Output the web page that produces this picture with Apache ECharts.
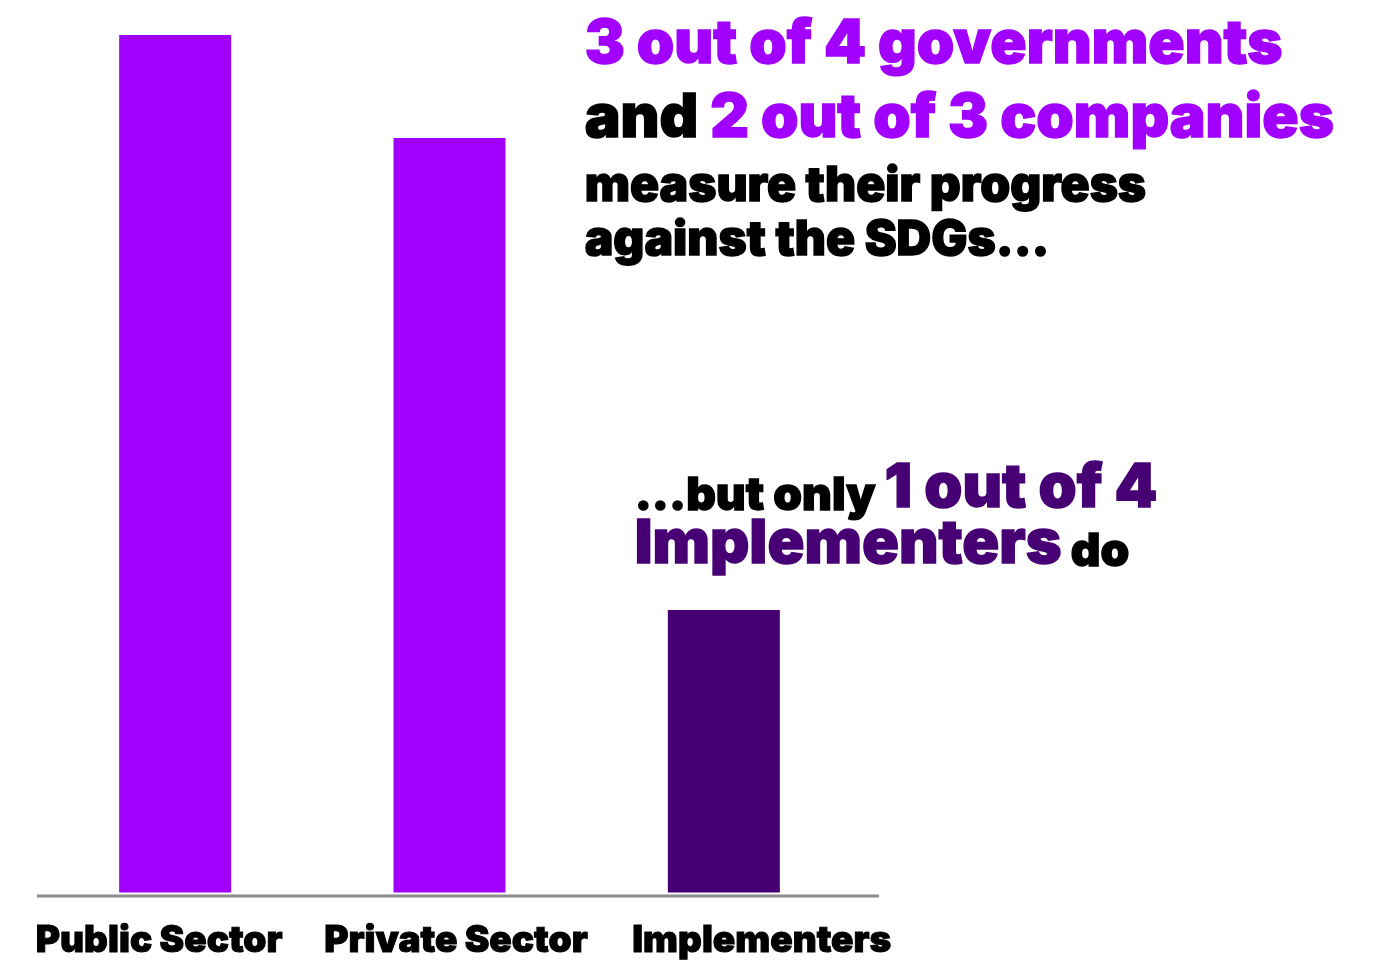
<!DOCTYPE html>
<html>
<head>
<meta charset="utf-8">
<script src="https://cdn.jsdelivr.net/npm/echarts@6/dist/echarts.min.js"></script>
<style>
html,body{margin:0;padding:0;background:#fff;}
#chart{width:1393px;height:960px;}
</style>
</head>
<body>
<div id="chart"></div>
<script>
const categories = ['Public Sector', 'Private Sector', 'Implementers'];
const values = [75, 66, 24.7];
const barColors = ['#A100FF', '#A100FF', '#460073'];

const FONT = '"Inter Black", Inter';
const PURPLE = '#A100FF';
const DARK = '#460073';

const chart = echarts.init(document.getElementById('chart'), null, {renderer: 'canvas'});

const labelPad = [[0, 32, 0, 0], [0, 0, 0, 13], [0, 0, 0, 76]];
const rich = {};
labelPad.forEach((p, i) => {
  rich['c' + i] = {fontFamily: FONT, fontWeight: 900, fontSize: 37, color: '#000', padding: p,
                   textBorderColor: '#000', textBorderWidth: 1};
});

function st(size, color, extra) {
  return Object.assign({fontFamily: FONT, fontWeight: 900, fontSize: size, fill: color,
                        stroke: color, lineWidth: 1.4}, extra || {});
}

const big = 60, mid = 48;
chart.setOption({
  animation: false,
  grid: {left: 38, width: 823, top: 35, bottom: 64, containLabel: false},
  xAxis: {
    type: 'category',
    data: categories,
    axisLine: {show: false},
    axisTick: {show: false},
    axisLabel: {
      margin: 30,
      formatter: (v, i) => '{c' + i + '|' + v + '}',
      rich: rich
    }
  },
  yAxis: {
    type: 'value', min: 0, max: 75,
    show: false, splitLine: {show: false}
  },
  series: [{
    type: 'bar',
    barWidth: 112,
    data: values.map((v, i) => ({value: v, itemStyle: {color: barColors[i]}}))
  }],
  graphic: [
    {type: 'line', shape: {x1: 37, y1: 896, x2: 879, y2: 896}, style: {stroke: '#8c8c8c', lineWidth: 3}, z: 10},
    {type: 'text', left: 584, top: 14, style: {
      text: '{p|3 out of 4 governments}',
      rich: {p: st(big, PURPLE)}
    }},
    {type: 'text', left: 584, top: 88, style: {
      text: '{k|and }{p|2 out of 3 companies}',
      rich: {k: st(big, '#000'), p: st(big, PURPLE)}
    }},
    {type: 'text', left: 584, top: 162, style: {
      text: '{k|measure their progress}\n{k|against the SDGs...}',
      rich: {k: st(mid, '#000', {lineHeight: 54})}
    }},
    {type: 'text', left: 634, top: 457, style: {
      text: '{k|...but only }{d|1 out of 4}\n{d|Implementers}{k| do}',
      rich: {k: st(46, '#000', {lineHeight: 56, verticalAlign: 'bottom'}),
             d: st(61, DARK, {lineHeight: 56, verticalAlign: 'bottom'})}
    }}
  ]
});
</script>
</body>
</html>
